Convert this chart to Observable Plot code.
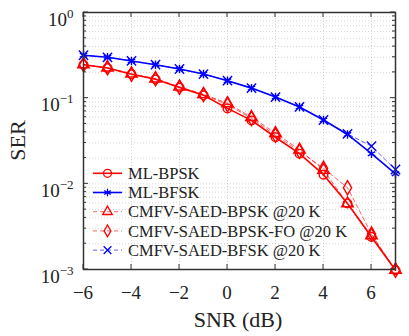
<!DOCTYPE html>
<html>
<head>
<meta charset="utf-8">
<script src="https://cdn.jsdelivr.net/npm/d3@7"></script>
<script src="https://cdn.jsdelivr.net/npm/@observablehq/plot@0.6"></script>
<style>
  body { margin: 0; background: #fff; }
  #wrap { position: relative; width: 409px; height: 336px; }
</style>
</head>
<body>
<div id="wrap"></div>
<script>
const snr = [-6, -5, -4, -3, -2, -1, 0, 1, 2, 3, 4, 5, 6, 7];
const mlBPSK      = [0.246, 0.225, 0.190, 0.166, 0.133, 0.108, 0.076, 0.055, 0.035, 0.0225, 0.0128, 0.0059, 0.0024, 0.00098];
const mlBFSK      = [0.317, 0.300, 0.272, 0.246, 0.219, 0.191, 0.160, 0.131, 0.103, 0.079, 0.0556, 0.0377, 0.0225, 0.0131];
const cmfvBPSK    = [0.248, 0.227, 0.193, 0.169, 0.136, 0.111, 0.087, 0.060, 0.039, 0.025, 0.0145, 0.0059, 0.0025, 0.00099];
const cmfvBPSKFO  = [0.246, 0.226, 0.190, 0.168, 0.134, 0.110, 0.084, 0.058, 0.037, 0.024, 0.0152, 0.0090, 0.0026, 0.00098];
const cmfvBFSK    = [0.317, 0.300, 0.272, 0.246, 0.219, 0.191, 0.160, 0.131, 0.103, 0.079, 0.0556, 0.0383, 0.0275, 0.0147];
const seriesNames = ["ML-BPSK", "ML-BFSK", "CMFV-SAED-BPSK @20 K", "CMFV-SAED-BPSK-FO @20 K", "CMFV-SAED-BFSK @20 K"];
const xTicks = [-6, -4, -2, 0, 2, 4, 6];
const yMajor = [1e-3, 1e-2, 1e-1, 1];
const yMajorExp = ["−3", "−2", "−1", "0"];

const FONT = "'Liberation Serif', 'Times New Roman', 'DejaVu Serif', serif";

const styles = [
  {color: "#ff0000", dash: null, symbol: "circle", width: 1.6, opacity: 1},
  {color: "#0000ff", dash: null, symbol: "asterisk", width: 1.6, opacity: 1},
  {color: "#ff0000", dash: "4,3", symbol: "triangle", width: 0.9, opacity: 0.7},
  {color: "#ff0000", dash: "4,3", symbol: "diamond", width: 0.9, opacity: 0.7},
  {color: "#0000ff", dash: "4,3", symbol: "times", width: 0.9, opacity: 0.7}
];
const allValues = [mlBPSK, mlBFSK, cmfvBPSK, cmfvBPSKFO, cmfvBFSK];

const rows = [];
allValues.forEach((vals, i) => vals.forEach((v, j) => rows.push({series: seriesNames[i], idx: i, x: snr[j], y: v})));

const yMinor = [];
for (let e = -3; e < 0; e++) for (let m = 1; m <= 9; m++) yMinor.push(m * Math.pow(10, e));
yMinor.push(1);

const marks = [
  Plot.gridY(yMinor, {stroke: "#bbb", strokeOpacity: 0.6, strokeDasharray: "1,2"}),
  Plot.gridX(xTicks, {stroke: "#bbb", strokeOpacity: 0.6, strokeDasharray: "1,2"})
];
styles.forEach((s, i) => {
  const d = rows.filter(r => r.idx === i);
  marks.push(Plot.line(d, {x: "x", y: "y", stroke: s.color, strokeWidth: s.width, strokeDasharray: s.dash, strokeOpacity: s.opacity}));
});
styles.forEach((s, i) => {
  const d = rows.filter(r => r.idx === i);
  marks.push(Plot.dot(d, {x: "x", y: "y", stroke: s.color, fill: "none", symbol: s.symbol, r: s.symbol === "asterisk" ? 4 : 4.3, strokeWidth: 1.4}));
});
marks.push(Plot.frame({stroke: "#333", strokeWidth: 1.5}));

const chart = Plot.plot({
  width: 409,
  height: 336,
  marginLeft: 83,
  marginRight: 14,
  marginTop: 12,
  marginBottom: 67,
  x: {domain: [-6, 7], axis: null},
  y: {type: "log", domain: [1e-3, 1], axis: null},
  style: {background: "#fff"},
  marks
});
document.getElementById("wrap").appendChild(chart);

const svg = d3.select(chart);
const xs = chart.scale("x"), ys = chart.scale("y");
const x0 = xs.apply(-6), x1 = xs.apply(7);
const yb = ys.apply(1e-3), yt = ys.apply(1);
const g = svg.append("g").attr("stroke", "#333").attr("stroke-width", 1);
xTicks.forEach(v => {
  const px = xs.apply(v);
  g.append("line").attr("x1", px).attr("x2", px).attr("y1", yb).attr("y2", yb - 5);
  g.append("line").attr("x1", px).attr("x2", px).attr("y1", yt).attr("y2", yt + 5);
});
yMinor.forEach(v => {
  const py = ys.apply(v);
  const major = yMajor.some(m => Math.abs(m - v) < 1e-12);
  const len = major ? 5 : 3;
  g.append("line").attr("x1", x0).attr("x2", x0 + len).attr("y1", py).attr("y2", py);
  g.append("line").attr("x1", x1).attr("x2", x1 - len).attr("y1", py).attr("y2", py);
});

function txt(sel, size, anchor) {
  return sel.append("text")
    .style("font-family", FONT, "important")
    .style("font-size", size + "px", "important")
    .style("text-anchor", anchor, "important")
    .style("fill", "#222");
}
const lab = svg.append("g");
xTicks.forEach(v => {
  txt(lab, 19, "middle").attr("x", xs.apply(v)).attr("y", yb + 29.5).text(v < 0 ? "−" + (-v) : String(v));
});
yMajor.forEach((v, i) => {
  const py = ys.apply(v);
  const t = txt(lab, 19, "end").attr("x", 73.5).attr("y", py + 13.5);
  t.append("tspan").text("10");
  t.append("tspan").attr("dy", -8).style("font-size", "13px", "important").text(yMajorExp[i]);
});
txt(lab, 22, "middle").attr("transform", `translate(25,${(yb + yt) / 2}) rotate(-90)`).text("SER");
txt(lab, 22, "middle").attr("x", (x0 + x1) / 2 - 1).attr("y", 326.5).text("SNR (dB)");

const leg = svg.append("g");
const symMap = {circle: d3.symbolCircle, asterisk: d3.symbolAsterisk, triangle: d3.symbolTriangle, diamond: d3.symbolDiamond, times: d3.symbolTimes};
seriesNames.forEach((name, i) => {
  const s = styles[i];
  const y = 173.3 + i * 19.2;
  leg.append("line").attr("x1", 93).attr("x2", 122).attr("y1", y).attr("y2", y)
    .attr("stroke", s.color).attr("stroke-width", s.width).attr("stroke-dasharray", s.dash).attr("stroke-opacity", s.opacity);
  leg.append("path").attr("transform", `translate(107.5,${y})`)
    .attr("d", d3.symbol(symMap[s.symbol], s.symbol === "circle" ? 50 : 40)())
    .attr("fill", "none").attr("stroke", s.color).attr("stroke-width", 1.3);
  txt(leg, 16.5, "start").attr("x", 128).attr("y", y + 5.7).text(name);
});
</script>
</body>
</html>
